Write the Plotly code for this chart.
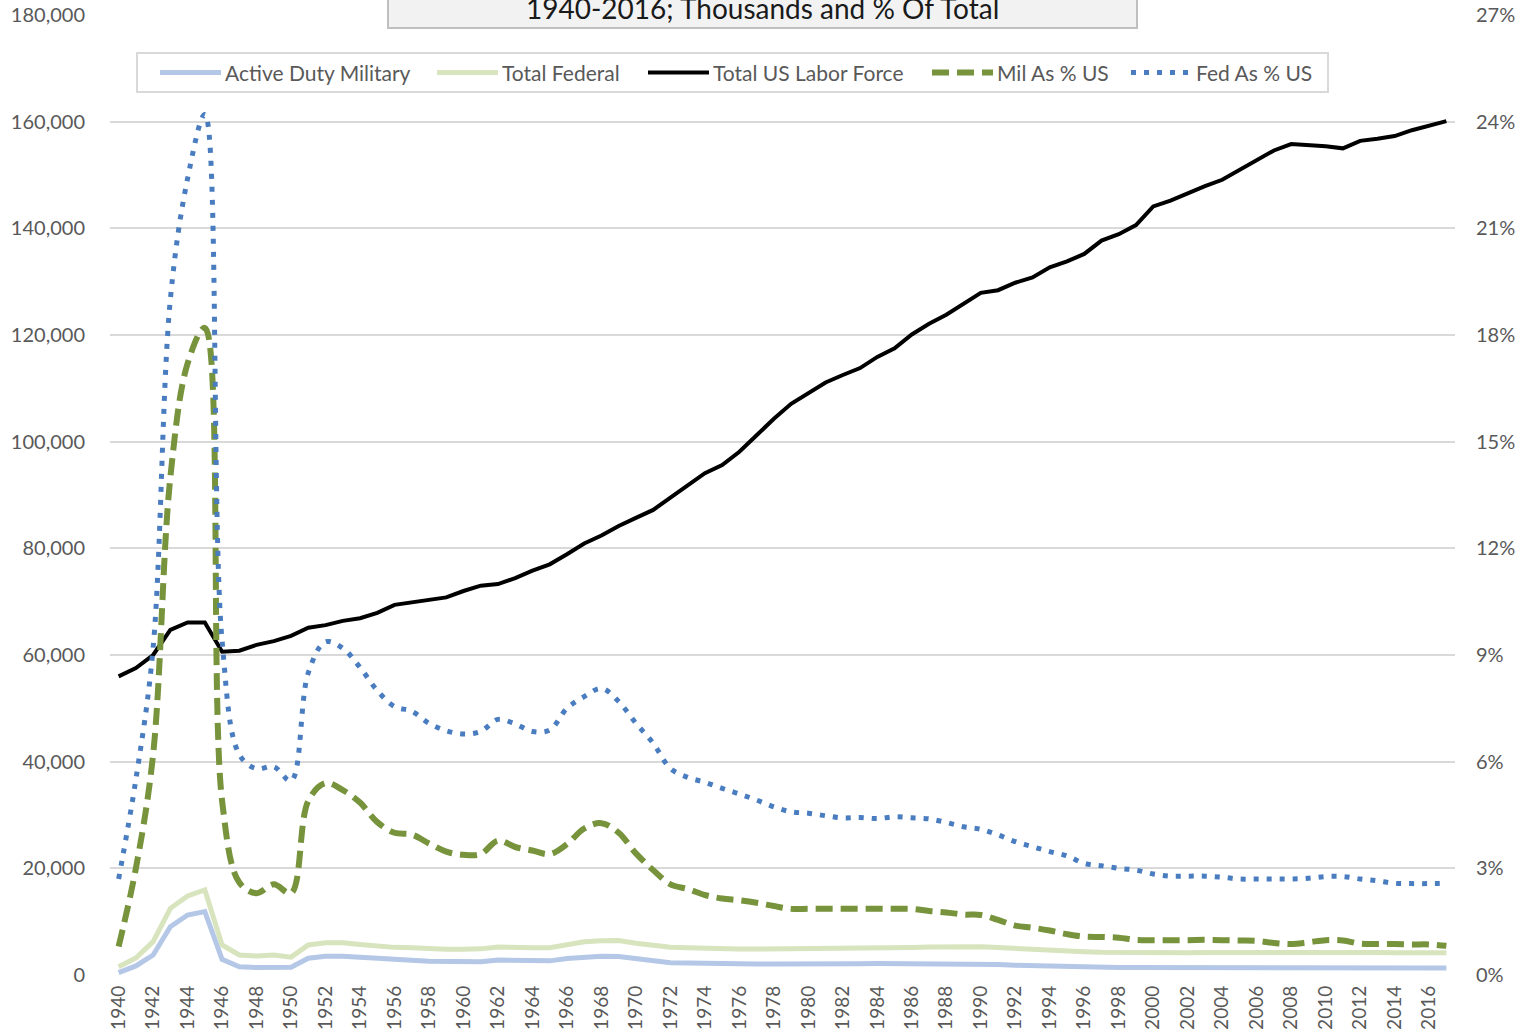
import plotly.graph_objects as go

years = list(range(1940, 2018))

active_duty = [460, 1700, 3750, 9050, 11250, 11900, 2950, 1560, 1400, 1500,
               1460, 3150, 3500, 3500, 3300, 2950, 2800, 2780, 2600, 2500,
               2480, 2490, 2790, 2700, 2690, 2650, 3090, 3380, 3500, 3450,
               3050, 2700, 2300, 2250, 2150, 2120, 2080, 2070, 2050, 2020,
               2040, 2070, 2100, 2120, 2140, 2150, 2160, 2160, 2140, 2130,
               2070, 1990, 1810, 1710, 1610, 1520, 1470, 1440, 1410, 1390,
               1380, 1390, 1410, 1430, 1430, 1390, 1380, 1380, 1400, 1420,
               1430, 1430, 1400, 1380, 1340, 1310, 1300, 1300]

total_federal = [1560, 3190, 6250, 12500, 14810, 15940, 5625, 3750, 3560, 3750,
                 3350, 5625, 6060, 6060, 5700, 5350, 5180, 5100, 4900, 4850,
                 4850, 4900, 5250, 5100, 5100, 5120, 5700, 6250, 6440, 6450,
                 5950, 5550, 5200, 5100, 4950, 4920, 4880, 4880, 4900, 4880,
                 4880, 4900, 4930, 4950, 5050, 5200, 5150, 5250, 5300, 5330,
                 5300, 5150, 4950, 4800, 4600, 4500, 4350, 4250, 4200, 4180,
                 4150, 4170, 4180, 4200, 4200, 4180, 4180, 4170, 4200, 4350,
                 4400, 4350, 4250, 4200, 4150, 4150, 4150, 4150]

labor_force = [56000, 57560, 60000, 64700, 66100, 66100, 60600, 60800, 61900, 62600,
               63600, 65100, 65600, 66400, 66900, 67900, 69400, 69900, 70300, 70800,
               72000, 73000, 73300, 74400, 75800, 77000, 78900, 80900, 82400, 84200,
               85700, 87200, 89500, 91700, 94100, 95600, 98100, 101200, 104300, 107100,
               109200, 111100, 112500, 113800, 115900, 117500, 120100, 122100, 123800, 125900,
               127900, 128400, 129800, 130800, 132700, 133800, 135200, 137700, 138900, 140600,
               144100, 145200, 146600, 147900, 149100, 150900, 152800, 154600, 155800, 155600,
               155400, 155000, 156400, 156800, 157300, 158400, 159200, 160100]

mil_pct = [0.8, 3.0, 6.2, 14.0, 17.2, 18.2, 4.9, 2.6, 2.3, 2.55,
           2.3, 4.9, 5.4, 5.2, 4.85, 4.3, 4.0, 3.95, 3.7, 3.47,
           3.38, 3.4, 3.78, 3.6, 3.5, 3.4, 3.68, 4.12, 4.27, 4.0,
           3.42, 2.95, 2.55, 2.42, 2.25, 2.15, 2.1, 2.03, 1.94, 1.86,
           1.86, 1.86, 1.86, 1.86, 1.86, 1.86, 1.86, 1.8, 1.76, 1.7,
           1.69, 1.55, 1.39, 1.33, 1.25, 1.15, 1.08, 1.07, 1.05, 0.99,
           0.98, 0.98, 0.98, 0.99, 0.98, 0.97, 0.96, 0.9, 0.87, 0.92,
           0.98, 0.97, 0.88, 0.87, 0.87, 0.86, 0.86, 0.82]

fed_pct = [2.7, 5.5, 9.2, 19.0, 22.4, 24.2, 9.4, 6.2, 5.8, 5.86,
           5.46, 8.5, 9.37, 9.19, 8.65, 8.0, 7.55, 7.42, 7.08, 6.87,
           6.78, 6.85, 7.19, 7.06, 6.85, 6.89, 7.5, 7.83, 8.06, 7.69,
           7.08, 6.52, 5.81, 5.56, 5.42, 5.25, 5.09, 4.92, 4.73, 4.59,
           4.55, 4.48, 4.42, 4.43, 4.4, 4.45, 4.42, 4.39, 4.29, 4.17,
           4.1, 3.94, 3.75, 3.61, 3.47, 3.35, 3.14, 3.07, 3.0, 2.95,
           2.84, 2.78, 2.78, 2.78, 2.75, 2.7, 2.7, 2.7, 2.7, 2.72,
           2.77, 2.77, 2.7, 2.65, 2.58, 2.57, 2.57, 2.57]

title_text = "1940-2016; Thousands and % Of Total"

FONT = "Lato"
GREY = "#595959"

W, H = 1524, 1030
ML, MR, MT, MB = 110, 69, 15, 55
PW, PH = W - ML - MR, H - MT - MB   # 1345 x 960


def px_x(x):
    return (x - ML) / PW


def px_y(y):
    return (H - MB - y) / PH


series = [
    ("Active Duty Military", years, active_duty, "y", dict(color="#b4c7e7", width=5)),
    ("Total Federal", years, total_federal, "y", dict(color="#d7e4bd", width=5)),
    ("Total US Labor Force", years, labor_force, "y", dict(color="#000000", width=4)),
    ("Mil As % US", years, mil_pct, "y2",
     dict(color="#77933c", width=6, dash="17px,8px", shape="spline")),
    ("Fed As % US", years, fed_pct, "y2",
     dict(color="#4a7dc0", width=5, dash="5px,8px", shape="spline")),
]

fig = go.Figure()
for name, xs, ys, yax, line in series:
    fig.add_trace(go.Scatter(x=xs, y=ys, name=name, mode="lines", yaxis=yax,
                             line=line, showlegend=False))

fig.update_layout(
    width=W, height=H,
    margin=dict(l=ML, r=MR, t=MT, b=MB),
    plot_bgcolor="white", paper_bgcolor="white",
    font=dict(family=FONT, size=18, color=GREY),
    xaxis=dict(range=[1939.5, 2017.5], tickmode="array", tickvals=years[::2],
               ticktext=[str(y) for y in years[::2]], tickangle=-90,
               showgrid=False, zeroline=False, showline=False, ticks="",
               ticklabelstandoff=6, tickfont=dict(size=19, color=GREY), automargin=False),
    yaxis=dict(range=[0, 180000], dtick=20000, tickformat=",d", showgrid=True,
               gridcolor="#d9d9d9", gridwidth=1.5, zeroline=False, showline=False,
               ticklabelstandoff=24, ticklabeloverflow="allow",
               tickfont=dict(size=20, color=GREY), automargin=False),
    yaxis2=dict(range=[0, 27], dtick=3, ticksuffix="%", overlaying="y", side="right",
                showgrid=False, zeroline=False, showline=False,
                ticklabelstandoff=20, ticklabeloverflow="allow",
                tickfont=dict(size=20, color=GREY), automargin=False),
)

# legend box drawn by hand so the sample lines can be as long as in the original
fig.add_shape(type="rect", xref="paper", yref="paper",
              x0=px_x(137), x1=px_x(1328), y0=px_y(92), y1=px_y(53),
              fillcolor="white", line=dict(color="#d9d9d9", width=2), layer="above")
legend_x = [160, 437, 648, 932, 1131]
for (name, _, _, _, line), lx in zip(series, legend_x):
    fig.add_shape(type="line", xref="paper", yref="paper",
                  x0=px_x(lx), x1=px_x(lx + 61), y0=px_y(72.5), y1=px_y(72.5),
                  line=dict(color=line["color"], width=line["width"],
                            dash=line.get("dash", "solid")), layer="above")
    fig.add_annotation(text=name, xref="paper", yref="paper",
                       x=px_x(lx + 63), y=px_y(72.5), xanchor="left", yanchor="middle",
                       showarrow=False, font=dict(family=FONT, size=21, color=GREY))

# title box, cut off by the top edge as in the original
fig.add_shape(type="rect", xref="paper", yref="paper",
              x0=px_x(388), x1=px_x(1137), y0=px_y(28), y1=px_y(-40),
              fillcolor="#f2f2f2", line=dict(color="#bfbfbf", width=2), layer="above")
fig.add_annotation(text=title_text, xref="paper", yref="paper",
                   x=px_x(762), y=px_y(8), xanchor="center", yanchor="middle",
                   showarrow=False, font=dict(family=FONT, size=28, color="#1a1a1a"))

fig.write_html("out.html", config={"displayModeBar": False},
               post_script="document.body.style.margin = '0';")
